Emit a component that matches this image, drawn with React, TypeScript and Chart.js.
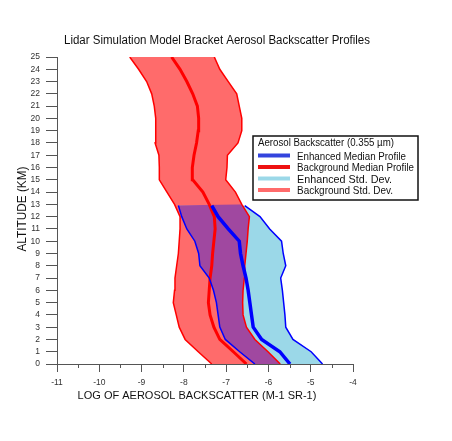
import { useEffect, useRef } from "react";
import { Chart, registerables } from "chart.js";

Chart.register(...registerables);

const FONT = "'Liberation Sans', Arial, sans-serif";

const chartTitle = "Lidar Simulation Model Bracket Aerosol Backscatter Profiles";
const xTitle = "LOG OF AEROSOL BACKSCATTER (M-1 SR-1)";
const yTitle = "ALTITUDE (KM)";
const legendTitle = "Aerosol Backscatter (0.355 \u00b5m)";
const legendLabels = [
  "Enhanced Median Profile",
  "Background Median Profile",
  "Enhanced Std. Dev.",
  "Background Std. Dev.",
];

// background profile (0 - 25 km)
const bgAltitude = [0, 1, 2, 3, 4, 5, 6, 7, 8, 9, 10, 11, 12, 13, 14, 15, 16, 17, 18, 19, 20, 21, 22, 23, 24, 25];
const bgLow = [-7.34, -7.66, -7.97, -8.11, -8.18, -8.25, -8.22, -8.21, -8.17, -8.13, -8.11, -8.09, -8.09, -8.22, -8.4, -8.58, -8.58, -8.59, -8.68, -8.67, -8.66, -8.7, -8.76, -8.88, -9.07, -9.28];
const bgMedian = [-6.52, -6.83, -7.15, -7.29, -7.38, -7.42, -7.4, -7.38, -7.34, -7.32, -7.29, -7.26, -7.28, -7.4, -7.55, -7.79, -7.8, -7.76, -7.7, -7.66, -7.65, -7.68, -7.79, -7.93, -8.09, -8.29];
const bgHigh = [-5.72, -6.01, -6.32, -6.52, -6.6, -6.61, -6.6, -6.57, -6.56, -6.53, -6.5, -6.48, -6.45, -6.63, -6.78, -7.01, -6.98, -6.97, -6.72, -6.63, -6.63, -6.69, -6.75, -6.95, -7.15, -7.28];

// enhanced profile (0 - 12.9 km)
const enhAltitude = [0, 1, 2, 3, 4, 5, 6, 7, 8, 9, 10, 11, 12, 12.9];
const enhLow = [-6.32, -6.68, -7.02, -7.15, -7.19, -7.23, -7.3, -7.4, -7.62, -7.65, -7.74, -7.93, -8.05, -8.13];
const enhMedian = [-5.49, -5.73, -6.16, -6.36, -6.4, -6.44, -6.48, -6.53, -6.6, -6.66, -6.69, -6.95, -7.19, -7.34];
const enhHigh = [-4.72, -4.99, -5.42, -5.59, -5.61, -5.64, -5.67, -5.71, -5.59, -5.65, -5.69, -5.97, -6.2, -6.56];

const RED = "#ff0000";
const BLUE = "#0000ff";
const RED_FILL = "#ff6b6b";
const CYAN_FILL = "#9bd8e8";
const PURPLE_FILL = "#a048a0";

const legendColors = ["#3344dd", "#ee1111", CYAN_FILL, RED_FILL];

const toPoints = (alt: number[], vals: number[]) => alt.map((a, i) => ({ x: vals[i], y: a }));

const textPlugin = {
  id: "profileText",
  afterDraw(chart: any) {
    const { ctx, chartArea } = chart;
    const xs = chart.scales.x;
    ctx.save();

    // minor ticks at half decades
    ctx.strokeStyle = "#555";
    ctx.lineWidth = 1;
    for (let v = xs.min + 0.5; v < xs.max; v += 1) {
      const px = Math.round(xs.getPixelForValue(v)) + 0.5;
      ctx.beginPath();
      ctx.moveTo(px, chartArea.bottom);
      ctx.lineTo(px, chartArea.bottom + 4);
      ctx.stroke();
    }

    ctx.fillStyle = "#111";
    ctx.textBaseline = "alphabetic";
    ctx.textAlign = "center";
    ctx.font = `12.5px ${FONT}`;
    ctx.fillText(chartTitle, 217, 44, 306);

    ctx.font = `11px ${FONT}`;
    ctx.fillText(xTitle, 197, 399, 240);

    ctx.save();
    ctx.translate(26, 209);
    ctx.rotate(-Math.PI / 2);
    ctx.font = `12px ${FONT}`;
    ctx.fillText(yTitle, 0, 0, 85);
    ctx.restore();

    // legend box
    ctx.fillStyle = "#fff";
    ctx.fillRect(253, 136, 165, 64);
    ctx.strokeStyle = "#111";
    ctx.lineWidth = 1.5;
    ctx.strokeRect(253, 136, 165, 64);

    ctx.textAlign = "left";
    ctx.fillStyle = "#111";
    ctx.font = `10px ${FONT}`;
    ctx.fillText(legendTitle, 258, 146, 136);

    const widths = [109, 117, 95, 96];
    legendLabels.forEach((label, i) => {
      const base = 159.5 + i * 11.5;
      ctx.strokeStyle = legendColors[i];
      ctx.lineWidth = 4;
      ctx.beginPath();
      ctx.moveTo(258, base - 4);
      ctx.lineTo(290, base - 4);
      ctx.stroke();
      ctx.fillStyle = "#111";
      ctx.font = `11px ${FONT}`;
      ctx.fillText(label, 297, base, widths[i]);
    });

    ctx.restore();
  },
};

const ProfileChart = () => {
  const canvasRef = useRef<HTMLCanvasElement>(null);
  const chartRef = useRef<Chart | null>(null);

  useEffect(() => {
    if (!canvasRef.current) return;
    const ctx = canvasRef.current.getContext("2d");
    if (!ctx) return;

    Chart.defaults.font.family = FONT;

    const line = (data: any[], color: string, width: number, order: number, extra: any = {}) => ({
      data,
      borderColor: color,
      borderWidth: width,
      pointRadius: 0,
      tension: 0,
      fill: false,
      order,
      ...extra,
    });

    chartRef.current = new Chart(ctx, {
      type: "line",
      data: {
        datasets: [
          // 0 background low edge, filled to 1
          line(toPoints(bgAltitude, bgLow), RED, 1.5, 7, { fill: 1, backgroundColor: RED_FILL }),
          // 1 background high edge
          line(toPoints(bgAltitude, bgHigh), RED, 1.5, 6),
          // 2 background median
          line(toPoints(bgAltitude, bgMedian), RED, 3, 5),
          // 3 enhanced low edge, filled to 4
          line(toPoints(enhAltitude, enhLow), BLUE, 1.5, 4, { fill: 4, backgroundColor: CYAN_FILL }),
          // 4 enhanced high edge
          line(toPoints(enhAltitude, enhHigh), BLUE, 1.5, 3),
          // 5 overlap of the two bands (enhanced low edge to background high edge)
          line(toPoints(enhAltitude, enhLow), "rgba(0,0,0,0)", 0, 2, { fill: 1, backgroundColor: PURPLE_FILL }),
          // 6 enhanced median
          line(toPoints(enhAltitude, enhMedian), BLUE, 3.5, 1),
        ],
      },
      options: {
        indexAxis: "y",
        animation: false,
        responsive: true,
        maintainAspectRatio: false,
        events: [],
        layout: { padding: { left: 0, right: 99, top: 57, bottom: 0 } },
        scales: {
          x: {
            type: "linear",
            min: -11,
            max: -4,
            afterFit: (scale: any) => {
              scale.height = 77;
            },
            ticks: { stepSize: 1, color: "#333", font: { size: 8.5 }, padding: 6 },
            grid: { drawOnChartArea: false, tickLength: 8, tickColor: "#555" },
            border: { color: "#555", width: 1 },
          },
          y: {
            type: "linear",
            min: 0,
            max: 25,
            afterFit: (scale: any) => {
              scale.width = 57;
            },
            ticks: { stepSize: 1, autoSkip: false, color: "#333", font: { size: 8.5 }, padding: 6 },
            grid: { drawOnChartArea: false, tickLength: 11, tickColor: "#555" },
            border: { color: "#555", width: 1 },
          },
        },
        plugins: {
          legend: { display: false },
          tooltip: { enabled: false },
          filler: { propagate: false, drawTime: "beforeDatasetsDraw" },
        },
      } as any,
      plugins: [textPlugin],
    });

    return () => {
      if (chartRef.current) {
        chartRef.current.destroy();
        chartRef.current = null;
      }
    };
  }, []);

  return (
    <div style={{ position: "fixed", left: 0, top: 0, width: 452, height: 441, background: "#fff" }}>
      <canvas ref={canvasRef} />
    </div>
  );
};

export default function App() {
  return <ProfileChart />;
}
